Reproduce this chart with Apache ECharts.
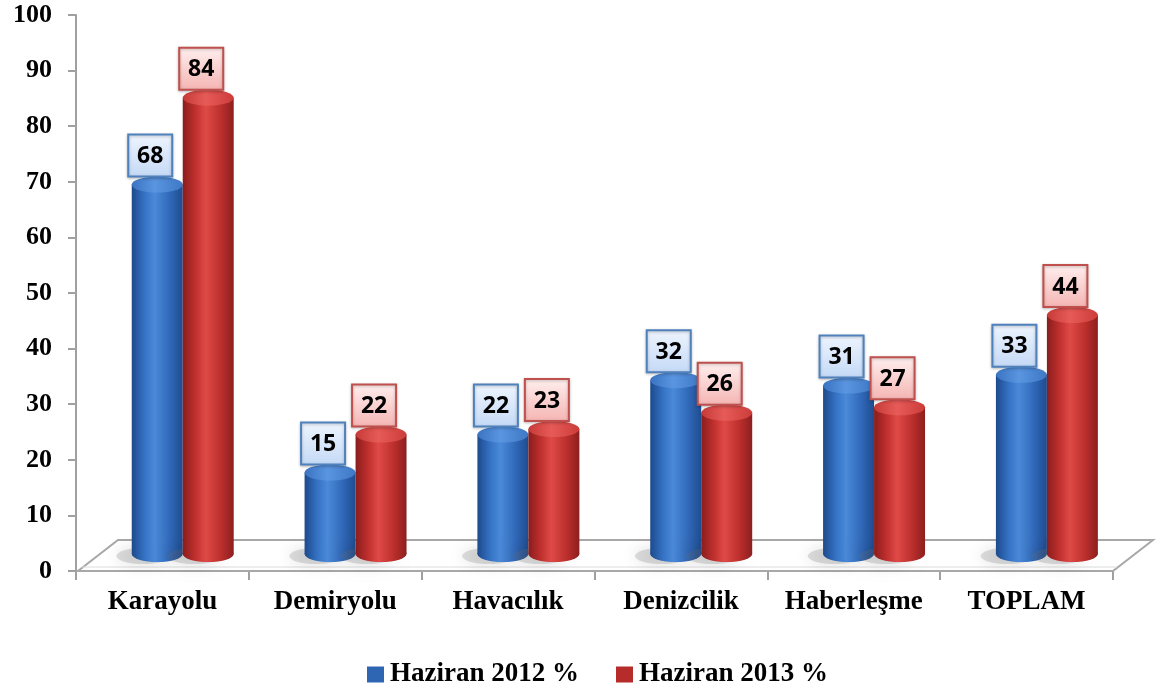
<!DOCTYPE html>
<html>
<head>
<meta charset="utf-8">
<script src="https://cdn.jsdelivr.net/npm/echarts@6/dist/echarts.min.js"></script>
<style>
html,body{margin:0;padding:0;background:#fff;}
#chart{width:1157px;height:690px;}
</style>
</head>
<body>
<div id="chart"></div>
<script>
const categories = ['Karayolu', 'Demiryolu', 'Havacılık', 'Denizcilik', 'Haberleşme', 'TOPLAM'];
const values2012 = [68, 15, 22, 32, 31, 33];
const values2013 = [84, 22, 23, 26, 27, 44];
const seriesNames = ['Haziran 2012 %', 'Haziran 2013 %'];
const yMin = 0, yMax = 100, yInterval = 10;

const G = echarts.graphic;
const serif = '"Liberation Serif", "Times New Roman", serif';

const palettes = [
  { body: ['#1d4a8c', '#3572c4', '#4a8ad9', '#3068b8', '#1f4c8f'], top: ['#3a74c2', '#5a95e0', '#3e78c6'],
    box: ['#eef5fe', '#c4d9f6'], border: '#4f81bd', legend: '#2f66b3' },
  { body: ['#8a1d1d', '#c0302e', '#df4a47', '#bb2f2c', '#8c1f1f'], top: ['#c63a38', '#e65a57', '#cc3d3a'],
    box: ['#fff0ef', '#f4b4b2'], border: '#c0504d', legend: '#b52c2a' }
];
const offsets = [-0.03, 0.265];

function makeRender(si) {
  const p = palettes[si];
  return function (params, api) {
    const idx = api.value(0), v = api.value(1);
    const base = api.coord([idx, 0]);
    const topPt = api.coord([idx, v]);
    const band = api.size([1, 0])[0];
    const w = band * 0.295;
    const rx = w / 2, ry = 8;
    const cx = base[0] + band * offsets[si];
    const baseY = base[1] - 17;
    const topY = baseY - (base[1] - topPt[1]) * 0.977;
    const bodyGrad = new G.LinearGradient(0, 0, 1, 0, [
      { offset: 0, color: p.body[0] }, { offset: 0.25, color: p.body[1] },
      { offset: 0.45, color: p.body[2] }, { offset: 0.75, color: p.body[3] },
      { offset: 1, color: p.body[4] }
    ]);
    const topGrad = new G.LinearGradient(0, 0, 1, 0, [
      { offset: 0, color: p.top[0] }, { offset: 0.45, color: p.top[1] }, { offset: 1, color: p.top[2] }
    ]);
    const boxW = 44, boxH = 42;
    const bx = cx - 7, by = topY - 8;
    return {
      type: 'group',
      children: [
        { type: 'circle', shape: { cx: 0, cy: 0, r: rx * 1.05 }, x: cx - rx * 0.55, y: baseY + 2, scaleY: 0.3,
          style: { fill: 'rgba(110,110,110,0.22)', shadowBlur: 16, shadowColor: 'rgba(0,0,0,0.6)' }, z2: 1 },
        { type: 'circle', shape: { cx: 0, cy: 0, r: rx }, x: cx, y: baseY, scaleY: ry / rx,
          style: { fill: bodyGrad }, z2: 2 },
        { type: 'rect', shape: { x: cx - rx, y: topY, width: w, height: baseY - topY },
          style: { fill: bodyGrad }, z2: 3 },
        { type: 'circle', shape: { cx: 0, cy: 0, r: rx }, x: cx, y: topY, scaleY: ry / rx,
          style: { fill: topGrad }, z2: 4 },
        { type: 'rect', shape: { x: bx - boxW / 2, y: by - boxH, width: boxW, height: boxH },
          style: { fill: new G.LinearGradient(0, 0, 0, 1, [{ offset: 0, color: p.box[0] }, { offset: 1, color: p.box[1] }]),
                   stroke: p.border, lineWidth: 2, shadowBlur: 3, shadowColor: 'rgba(0,0,0,0.25)', shadowOffsetY: 1 }, z2: 10 },
        { type: 'text', x: bx, y: by - boxH / 2 + 1,
          style: { text: String(v), font: 'bold 23px "Open Sans", "Liberation Sans", sans-serif',
                   fill: '#000', align: 'center', verticalAlign: 'middle' }, z2: 11 }
      ]
    };
  };
}

function floorRender(params, api) {
  const cs = params.coordSys;
  const x0 = cs.x, x1 = cs.x + cs.width, yb = cs.y + cs.height;
  const dx = 40, dy = -31;
  return {
    type: 'group',
    children: [
      { type: 'polygon', shape: { points: [[x0 + 2, yb], [x1, yb], [x1 + dx, yb + dy], [x0 + 2 + dx, yb + dy]] },
        style: { fill: '#ffffff', stroke: '#a8a8a8', lineWidth: 2 } },
      { type: 'line', shape: { x1: x0 + 6, y1: yb - 4, x2: x1 + 4, y2: yb - 4 },
        style: { stroke: '#dcdcdc', lineWidth: 1 } }
    ]
  };
}

const chart = echarts.init(document.getElementById('chart'), null, { renderer: 'canvas' });
chart.setOption({
  animation: false,
  backgroundColor: '#ffffff',
  grid: { left: 76, right: 44, top: 15, bottom: 119, containLabel: false },
  legend: {
    data: seriesNames,
    top: 656,
    left: 362,
    itemWidth: 17, itemHeight: 16,
    itemGap: 37,
    icon: 'rect',
    textStyle: { fontFamily: serif, fontWeight: 'bold', fontSize: 27, color: '#000', padding: [0, 0, 0, 1] }
  },
  xAxis: {
    type: 'category',
    data: categories,
    axisLine: { lineStyle: { color: '#a0a0a0', width: 2 } },
    axisTick: { show: true, interval: 0, length: 9, lineStyle: { color: '#a0a0a0', width: 2 } },
    axisLabel: { interval: 0, margin: 18, fontFamily: serif, fontWeight: 'bold', fontSize: 27, color: '#000' },
    splitLine: { show: false }
  },
  yAxis: {
    type: 'value',
    min: yMin, max: yMax, interval: yInterval,
    axisLine: { show: true, lineStyle: { color: '#a0a0a0', width: 2 } },
    axisTick: { show: true, length: 8, lineStyle: { color: '#a0a0a0', width: 2 } },
    axisLabel: { margin: 24, fontFamily: serif, fontWeight: 'bold', fontSize: 26, color: '#000' },
    splitLine: { show: false }
  },
  series: [
    { type: 'custom', name: 'floor', silent: true, z: 1, renderItem: floorRender, data: [[0, 0]],
      encode: { x: 0, y: 1 } },
    { type: 'custom', name: seriesNames[0], z: 3, renderItem: makeRender(0),
      itemStyle: { color: palettes[0].legend },
      data: values2012.map((v, i) => [i, v]), encode: { x: 0, y: 1 } },
    { type: 'custom', name: seriesNames[1], z: 4, renderItem: makeRender(1),
      itemStyle: { color: palettes[1].legend },
      data: values2013.map((v, i) => [i, v]), encode: { x: 0, y: 1 } }
  ]
});
</script>
</body>
</html>
